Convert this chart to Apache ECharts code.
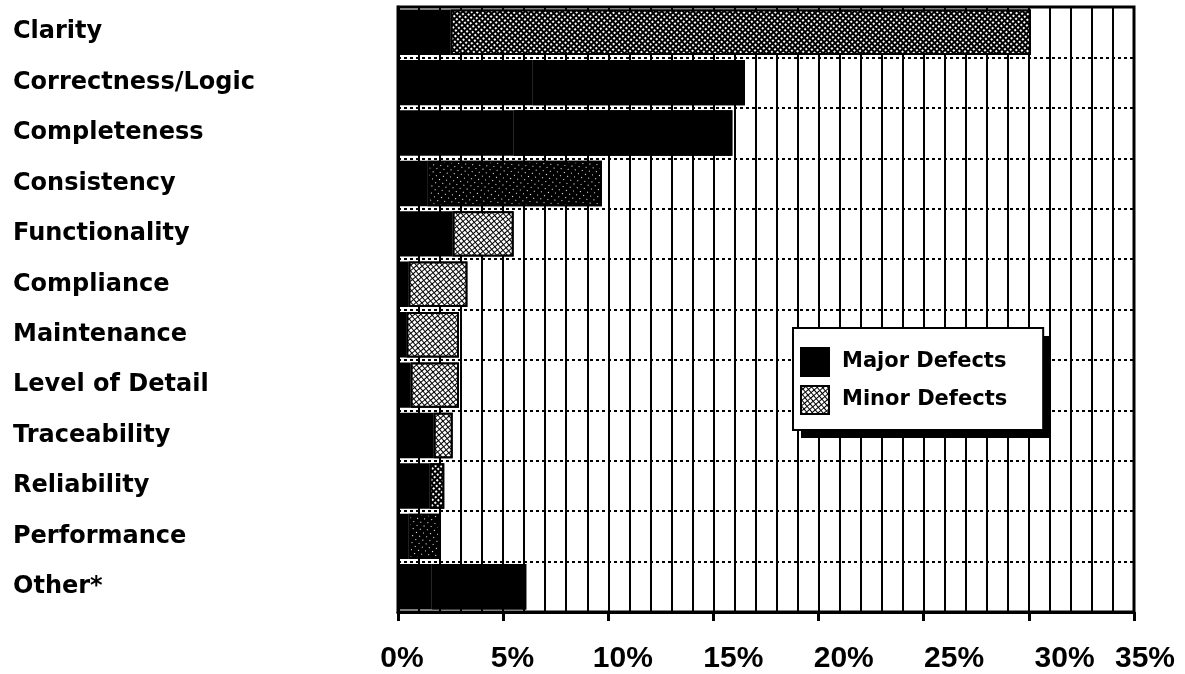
<!DOCTYPE html>
<html><head><meta charset="utf-8">
<script src="https://cdn.jsdelivr.net/npm/echarts@6/dist/echarts.min.js"></script>
<style>html,body{margin:0;padding:0;background:#fff}#chart{width:1185px;height:674px}</style>
</head><body><div id="chart"></div>
<script>
// ---- data ----
const categories = ['Clarity','Correctness/Logic','Completeness','Consistency','Functionality','Compliance','Maintenance','Level of Detail','Traceability','Reliability','Performance','Other*'];
const majorDefects = [2.5, 6.4, 5.5, 1.4, 2.6, 0.5, 0.4, 0.6, 1.7, 1.5, 0.5, 1.6];
const minorDefects = [27.6, 10.1, 10.4, 8.3, 2.9, 2.8, 2.5, 2.3, 0.9, 0.7, 1.5, 4.5];
const xTickValues = [0, 5, 10, 15, 20, 25, 30, 35];

// ---- style ----
const LABEL_FONT = 'DejaVu Sans';
const TICK_FONT = 'Liberation Sans';
const decals = {
  light:  {symbol:'rect', symbolSize:1, color:'#ffffff', dashArrayX:[3,1], dashArrayY:[3,1], rotation:-0.7},
  medium: {symbol:'rect', symbolSize:1, color:'#ffffff', dashArrayX:[2,2], dashArrayY:[2,2], rotation:-0.7},
  dark:   {symbol:'rect', symbolSize:1, color:'#ffffff', dashArrayX:[1,4], dashArrayY:[1,4], rotation:-0.7},
  black:  {symbol:'rect', symbolSize:1, color:'#000000', dashArrayX:[1,4], dashArrayY:[1,4], rotation:0}
};
// how the scanned minor-defect fill appears for each category
const minorTone = {
  'Clarity':'medium', 'Correctness/Logic':'black', 'Completeness':'black', 'Consistency':'dark',
  'Functionality':'light', 'Compliance':'light', 'Maintenance':'light', 'Level of Detail':'light',
  'Traceability':'light', 'Reliability':'medium', 'Performance':'dark', 'Other*':'black'
};

const chart = echarts.init(document.getElementById('chart'), null, {renderer:'canvas'});
const xMin = xTickValues[0], xMax = xTickValues[xTickValues.length-1], xStep = xTickValues[1]-xTickValues[0];

chart.setOption({
  animation:false,
  backgroundColor:'#ffffff',
  grid:[
    {left:398, right:51, top:7, bottom:62, show:true, borderColor:'#000', borderWidth:3, containLabel:false},
    {left:402, right:10, top:600, bottom:62, show:false}
  ],
  graphic:{elements:[
    // legend drop shadow
    {type:'rect', left:801, top:336, z:3, shape:{width:250, height:102}, style:{fill:'#000'}}
  ]},
  legend:{
    left:793, top:328, orient:'vertical', z:5,
    data:['Major Defects','Minor Defects'],
    icon:'rect', itemWidth:28, itemHeight:28, itemGap:8,
    padding:[19,36,15,7],
    backgroundColor:'#fff', borderColor:'#000', borderWidth:2,
    textStyle:{fontFamily:LABEL_FONT, fontWeight:'bold', fontSize:21, color:'#000', padding:[0,0,0,8]}
  },
  xAxis:[
    {type:'value', gridIndex:0, min:xMin, max:xMax, interval:xStep,
     axisLine:{show:true, lineStyle:{color:'#000', width:3}},
     axisTick:{show:true, length:9, lineStyle:{color:'#000', width:3}},
     axisLabel:{show:false},
     splitLine:{show:true, lineStyle:{color:'#000', width:2}},
     minorTick:{show:false, splitNumber:5},
     minorSplitLine:{show:true, lineStyle:{color:'#000', width:2}}
    },
    {type:'value', gridIndex:1, min:xMin, max:xMax, interval:xStep,
     axisLine:{show:false}, axisTick:{show:false}, splitLine:{show:false},
     axisLabel:{show:true, formatter:'{value}%', margin:35, alignMaxLabel:'right',
       fontFamily:TICK_FONT, fontWeight:'bold', fontSize:30, color:'#000'}
    }
  ],
  yAxis:[
    {type:'category', gridIndex:0, data:categories, inverse:true,
     axisLine:{show:true, lineStyle:{color:'#000', width:3}},
     axisTick:{show:false},
     splitLine:{show:true, lineStyle:{color:'#000', width:2, type:[3,3]}},
     axisLabel:{margin:385, align:'left', padding:[5,0,0,0], fontFamily:LABEL_FONT, fontWeight:'bold', fontSize:24, color:'#000'}
    },
    {type:'value', gridIndex:1, show:false}
  ],
  series:[
    {name:'Major Defects', type:'bar', stack:'total', xAxisIndex:0, yAxisIndex:0,
     barCategoryGap:'10%',
     itemStyle:{color:'#000', borderColor:'#000', borderWidth:2},
     data:majorDefects},
    {name:'Minor Defects', type:'bar', stack:'total', xAxisIndex:0, yAxisIndex:0,
     barCategoryGap:'10%',
     itemStyle:{color:'#000', borderColor:'#000', borderWidth:2, decal:decals.light},
     data:minorDefects.map((v,i)=>({value:v, itemStyle:{decal:decals[minorTone[categories[i]]]}}))}
  ]
});
</script></body></html>
